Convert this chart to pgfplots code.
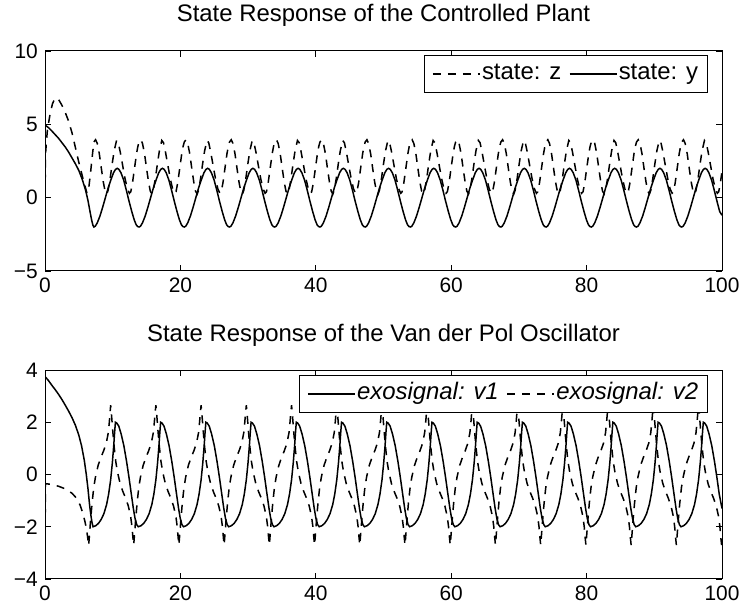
\documentclass[border=0pt]{standalone}
\usepackage{pgfplots}
\pgfplotsset{compat=1.18}
\usepackage{fontspec}
\setmainfont{Liberation Sans}
\pgfplotsset{
  mystyle/.style={
    scale only axis, width=677bp, xmin=0, xmax=100,
    xtick={0,20,40,60,80,100},
    xticklabels={0,20,40,60,80,100},
    tick align=inside, xtick pos=both, ytick pos=both,
    xticklabel pos=lower, yticklabel pos=left,
    major tick length=6bp,
    axis line style={line width=1bp, black},
    tick style={line width=0.8bp, black},
    ticklabel style={font=\fontsize{21}{21}\selectfont, inner sep=0pt},
    xticklabel style={yshift=-7bp},
    yticklabel style={xshift=-7bp},
    title style={font=\fontsize{24}{24}\selectfont, at={(axis description cs:0.5,1)}, anchor=base, yshift=24bp},
    legend style={font=\fontsize{24}{24}\selectfont, draw=black, line width=0.8bp, fill=white,
      legend columns=-1, anchor=north east, inner xsep=8bp, inner ysep=5bp,
      cells={anchor=west}, nodes={inner sep=1.5bp, text height=18bp, text depth=6bp},
      /tikz/every even column/.append style={column sep=6bp}},
    legend image code/.code={\draw[##1] (0bp,0bp) -- (47bp,0bp);},
  },
  sol/.style={black, line width=1.5bp},
  das/.style={black, line width=1.5bp, dash pattern=on 8bp off 7bp},
}
\begin{document}
\begin{tikzpicture}
\path[use as bounding box] (0bp,0bp) rectangle (746bp,612bp);
% ---------------- top axis ----------------
\begin{axis}[mystyle, at={(45bp,341bp)}, anchor=south west, height=220bp,
  ymin=-5, ymax=10, ytick={-5,0,5,10}, yticklabels={−5,0,5,10},
  title={State Response of the Controlled Plant},
  legend style={at={(axis description cs:0.9793,0.982)}}]
\addplot[das] coordinates {
(0,0)(0.08,3.0)(0.35,4.6)(0.75,5.7)(1.1,6.4)(1.5,6.8)(2.0,6.7)(2.5,6.3)(3.0,5.8)(3.5,5.2)(4.0,4.4)(4.5,3.4)(5.0,2.4)(5.5,1.5)(5.9,0.8)(6.2,0.3)(6.45,0.6)(6.75,1.8)(7.0,2.9)
(7.22,3.8)(7.47,3.95)(7.72,3.7)(8.02,3.0)(8.32,2.0)(8.62,1.05)(8.87,0.45)(9.12,0.25)(9.32,0.5)(9.62,1.3)(9.92,2.3)(10.22,3.2)(10.57,3.9)(10.82,3.75)(11.12,3.1)(11.47,2.2)(11.82,1.3)(12.17,0.6)(12.47,0.3)(12.67,0.4)(12.92,1.0)(13.22,2.0)(13.52,3.0)(13.72,3.5)
(13.90,3.8)(14.15,3.95)(14.40,3.7)(14.70,3.0)(15.00,2.0)(15.30,1.05)(15.55,0.45)(15.80,0.25)(16.00,0.5)(16.30,1.3)(16.60,2.3)(16.90,3.2)(17.25,3.9)(17.50,3.75)(17.80,3.1)(18.15,2.2)(18.50,1.3)(18.85,0.6)(19.15,0.3)(19.35,0.4)(19.60,1.0)(19.90,2.0)(20.20,3.0)(20.40,3.5)
(20.58,3.8)(20.83,3.95)(21.08,3.7)(21.38,3.0)(21.68,2.0)(21.98,1.05)(22.23,0.45)(22.48,0.25)(22.68,0.5)(22.98,1.3)(23.28,2.3)(23.58,3.2)(23.93,3.9)(24.18,3.75)(24.48,3.1)(24.83,2.2)(25.18,1.3)(25.53,0.6)(25.83,0.3)(26.03,0.4)(26.28,1.0)(26.58,2.0)(26.88,3.0)(27.08,3.5)
(27.26,3.8)(27.51,3.95)(27.76,3.7)(28.06,3.0)(28.36,2.0)(28.66,1.05)(28.91,0.45)(29.16,0.25)(29.36,0.5)(29.66,1.3)(29.96,2.3)(30.26,3.2)(30.61,3.9)(30.86,3.75)(31.16,3.1)(31.51,2.2)(31.86,1.3)(32.21,0.6)(32.51,0.3)(32.71,0.4)(32.96,1.0)(33.26,2.0)(33.56,3.0)(33.76,3.5)
(33.94,3.8)(34.19,3.95)(34.44,3.7)(34.74,3.0)(35.04,2.0)(35.34,1.05)(35.59,0.45)(35.84,0.25)(36.04,0.5)(36.34,1.3)(36.64,2.3)(36.94,3.2)(37.29,3.9)(37.54,3.75)(37.84,3.1)(38.19,2.2)(38.54,1.3)(38.89,0.6)(39.19,0.3)(39.39,0.4)(39.64,1.0)(39.94,2.0)(40.24,3.0)(40.44,3.5)
(40.62,3.8)(40.87,3.95)(41.12,3.7)(41.42,3.0)(41.72,2.0)(42.02,1.05)(42.27,0.45)(42.52,0.25)(42.72,0.5)(43.02,1.3)(43.32,2.3)(43.62,3.2)(43.97,3.9)(44.22,3.75)(44.52,3.1)(44.87,2.2)(45.22,1.3)(45.57,0.6)(45.87,0.3)(46.07,0.4)(46.32,1.0)(46.62,2.0)(46.92,3.0)(47.12,3.5)
(47.30,3.8)(47.55,3.95)(47.80,3.7)(48.10,3.0)(48.40,2.0)(48.70,1.05)(48.95,0.45)(49.20,0.25)(49.40,0.5)(49.70,1.3)(50.00,2.3)(50.30,3.2)(50.65,3.9)(50.90,3.75)(51.20,3.1)(51.55,2.2)(51.90,1.3)(52.25,0.6)(52.55,0.3)(52.75,0.4)(53.00,1.0)(53.30,2.0)(53.60,3.0)(53.80,3.5)
(53.98,3.8)(54.23,3.95)(54.48,3.7)(54.78,3.0)(55.08,2.0)(55.38,1.05)(55.63,0.45)(55.88,0.25)(56.08,0.5)(56.38,1.3)(56.68,2.3)(56.98,3.2)(57.33,3.9)(57.58,3.75)(57.88,3.1)(58.23,2.2)(58.58,1.3)(58.93,0.6)(59.23,0.3)(59.43,0.4)(59.68,1.0)(59.98,2.0)(60.28,3.0)(60.48,3.5)
(60.66,3.8)(60.91,3.95)(61.16,3.7)(61.46,3.0)(61.76,2.0)(62.06,1.05)(62.31,0.45)(62.56,0.25)(62.76,0.5)(63.06,1.3)(63.36,2.3)(63.66,3.2)(64.01,3.9)(64.26,3.75)(64.56,3.1)(64.91,2.2)(65.26,1.3)(65.61,0.6)(65.91,0.3)(66.11,0.4)(66.36,1.0)(66.66,2.0)(66.96,3.0)(67.16,3.5)
(67.34,3.8)(67.59,3.95)(67.84,3.7)(68.14,3.0)(68.44,2.0)(68.74,1.05)(68.99,0.45)(69.24,0.25)(69.44,0.5)(69.74,1.3)(70.04,2.3)(70.34,3.2)(70.69,3.9)(70.94,3.75)(71.24,3.1)(71.59,2.2)(71.94,1.3)(72.29,0.6)(72.59,0.3)(72.79,0.4)(73.04,1.0)(73.34,2.0)(73.64,3.0)(73.84,3.5)
(74.02,3.8)(74.27,3.95)(74.52,3.7)(74.82,3.0)(75.12,2.0)(75.42,1.05)(75.67,0.45)(75.92,0.25)(76.12,0.5)(76.42,1.3)(76.72,2.3)(77.02,3.2)(77.37,3.9)(77.62,3.75)(77.92,3.1)(78.27,2.2)(78.62,1.3)(78.97,0.6)(79.27,0.3)(79.47,0.4)(79.72,1.0)(80.02,2.0)(80.32,3.0)(80.52,3.5)
(80.70,3.8)(80.95,3.95)(81.20,3.7)(81.50,3.0)(81.80,2.0)(82.10,1.05)(82.35,0.45)(82.60,0.25)(82.80,0.5)(83.10,1.3)(83.40,2.3)(83.70,3.2)(84.05,3.9)(84.30,3.75)(84.60,3.1)(84.95,2.2)(85.30,1.3)(85.65,0.6)(85.95,0.3)(86.15,0.4)(86.40,1.0)(86.70,2.0)(87.00,3.0)(87.20,3.5)
(87.38,3.8)(87.63,3.95)(87.88,3.7)(88.18,3.0)(88.48,2.0)(88.78,1.05)(89.03,0.45)(89.28,0.25)(89.48,0.5)(89.78,1.3)(90.08,2.3)(90.38,3.2)(90.73,3.9)(90.98,3.75)(91.28,3.1)(91.63,2.2)(91.98,1.3)(92.33,0.6)(92.63,0.3)(92.83,0.4)(93.08,1.0)(93.38,2.0)(93.68,3.0)(93.88,3.5)
(94.06,3.8)(94.31,3.95)(94.56,3.7)(94.86,3.0)(95.16,2.0)(95.46,1.05)(95.71,0.45)(95.96,0.25)(96.16,0.5)(96.46,1.3)(96.76,2.3)(97.06,3.2)(97.41,3.9)(97.66,3.75)(97.96,3.1)(98.31,2.2)(98.66,1.3)(99.01,0.6)(99.31,0.3)(99.51,0.4)(99.76,1.0)(100,1.8)
};
\addlegendentry{state: z}
\addplot[sol] coordinates {
(0,4.95)(0.5,4.78)(1,4.55)(1.5,4.3)(2,4.05)(2.5,3.75)(3,3.45)(3.5,3.1)(4,2.7)(4.5,2.3)(5,1.85)(5.5,1.25)(6,0.5)(6.35,-0.2)(6.65,-0.95)(6.9,-1.55)(7.08,-1.88)
(7.22,-2)(7.42,-1.95)(7.72,-1.72)(8.12,-1.25)(8.52,-0.65)(8.92,0)(9.32,0.65)(9.72,1.2)(10.12,1.7)(10.42,1.93)(10.67,2)(10.92,1.93)(11.22,1.7)(11.62,1.2)(12.02,0.5)(12.42,-0.25)(12.82,-0.95)(13.17,-1.5)(13.47,-1.85)(13.69,-1.97)
(13.90,-2)(14.10,-1.95)(14.40,-1.72)(14.80,-1.25)(15.20,-0.65)(15.60,0)(16.00,0.65)(16.40,1.2)(16.80,1.7)(17.10,1.93)(17.35,2)(17.60,1.93)(17.90,1.7)(18.30,1.2)(18.70,0.5)(19.10,-0.25)(19.50,-0.95)(19.85,-1.5)(20.15,-1.85)(20.37,-1.97)
(20.58,-2)(20.78,-1.95)(21.08,-1.72)(21.48,-1.25)(21.88,-0.65)(22.28,0)(22.68,0.65)(23.08,1.2)(23.48,1.7)(23.78,1.93)(24.03,2)(24.28,1.93)(24.58,1.7)(24.98,1.2)(25.38,0.5)(25.78,-0.25)(26.18,-0.95)(26.53,-1.5)(26.83,-1.85)(27.05,-1.97)
(27.26,-2)(27.46,-1.95)(27.76,-1.72)(28.16,-1.25)(28.56,-0.65)(28.96,0)(29.36,0.65)(29.76,1.2)(30.16,1.7)(30.46,1.93)(30.71,2)(30.96,1.93)(31.26,1.7)(31.66,1.2)(32.06,0.5)(32.46,-0.25)(32.86,-0.95)(33.21,-1.5)(33.51,-1.85)(33.73,-1.97)
(33.94,-2)(34.14,-1.95)(34.44,-1.72)(34.84,-1.25)(35.24,-0.65)(35.64,0)(36.04,0.65)(36.44,1.2)(36.84,1.7)(37.14,1.93)(37.39,2)(37.64,1.93)(37.94,1.7)(38.34,1.2)(38.74,0.5)(39.14,-0.25)(39.54,-0.95)(39.89,-1.5)(40.19,-1.85)(40.41,-1.97)
(40.62,-2)(40.82,-1.95)(41.12,-1.72)(41.52,-1.25)(41.92,-0.65)(42.32,0)(42.72,0.65)(43.12,1.2)(43.52,1.7)(43.82,1.93)(44.07,2)(44.32,1.93)(44.62,1.7)(45.02,1.2)(45.42,0.5)(45.82,-0.25)(46.22,-0.95)(46.57,-1.5)(46.87,-1.85)(47.09,-1.97)
(47.30,-2)(47.50,-1.95)(47.80,-1.72)(48.20,-1.25)(48.60,-0.65)(49.00,0)(49.40,0.65)(49.80,1.2)(50.20,1.7)(50.50,1.93)(50.75,2)(51.00,1.93)(51.30,1.7)(51.70,1.2)(52.10,0.5)(52.50,-0.25)(52.90,-0.95)(53.25,-1.5)(53.55,-1.85)(53.77,-1.97)
(53.98,-2)(54.18,-1.95)(54.48,-1.72)(54.88,-1.25)(55.28,-0.65)(55.68,0)(56.08,0.65)(56.48,1.2)(56.88,1.7)(57.18,1.93)(57.43,2)(57.68,1.93)(57.98,1.7)(58.38,1.2)(58.78,0.5)(59.18,-0.25)(59.58,-0.95)(59.93,-1.5)(60.23,-1.85)(60.45,-1.97)
(60.66,-2)(60.86,-1.95)(61.16,-1.72)(61.56,-1.25)(61.96,-0.65)(62.36,0)(62.76,0.65)(63.16,1.2)(63.56,1.7)(63.86,1.93)(64.11,2)(64.36,1.93)(64.66,1.7)(65.06,1.2)(65.46,0.5)(65.86,-0.25)(66.26,-0.95)(66.61,-1.5)(66.91,-1.85)(67.13,-1.97)
(67.34,-2)(67.54,-1.95)(67.84,-1.72)(68.24,-1.25)(68.64,-0.65)(69.04,0)(69.44,0.65)(69.84,1.2)(70.24,1.7)(70.54,1.93)(70.79,2)(71.04,1.93)(71.34,1.7)(71.74,1.2)(72.14,0.5)(72.54,-0.25)(72.94,-0.95)(73.29,-1.5)(73.59,-1.85)(73.81,-1.97)
(74.02,-2)(74.22,-1.95)(74.52,-1.72)(74.92,-1.25)(75.32,-0.65)(75.72,0)(76.12,0.65)(76.52,1.2)(76.92,1.7)(77.22,1.93)(77.47,2)(77.72,1.93)(78.02,1.7)(78.42,1.2)(78.82,0.5)(79.22,-0.25)(79.62,-0.95)(79.97,-1.5)(80.27,-1.85)(80.49,-1.97)
(80.70,-2)(80.90,-1.95)(81.20,-1.72)(81.60,-1.25)(82.00,-0.65)(82.40,0)(82.80,0.65)(83.20,1.2)(83.60,1.7)(83.90,1.93)(84.15,2)(84.40,1.93)(84.70,1.7)(85.10,1.2)(85.50,0.5)(85.90,-0.25)(86.30,-0.95)(86.65,-1.5)(86.95,-1.85)(87.17,-1.97)
(87.38,-2)(87.58,-1.95)(87.88,-1.72)(88.28,-1.25)(88.68,-0.65)(89.08,0)(89.48,0.65)(89.88,1.2)(90.28,1.7)(90.58,1.93)(90.83,2)(91.08,1.93)(91.38,1.7)(91.78,1.2)(92.18,0.5)(92.58,-0.25)(92.98,-0.95)(93.33,-1.5)(93.63,-1.85)(93.85,-1.97)
(94.06,-2)(94.26,-1.95)(94.56,-1.72)(94.96,-1.25)(95.36,-0.65)(95.76,0)(96.16,0.65)(96.56,1.2)(96.96,1.7)(97.26,1.93)(97.51,2)(97.76,1.93)(98.06,1.7)(98.46,1.2)(98.86,0.5)(99.26,-0.25)(99.66,-0.95)(100,-1.2)
};
\addlegendentry{state: y}
\end{axis}
% ---------------- bottom axis ----------------
\begin{axis}[mystyle, at={(45bp,33bp)}, anchor=south west, height=209bp,
  ymin=-4, ymax=4, ytick={-4,-2,0,2,4}, yticklabels={−4,−2,0,2,4},
  title={State Response of the Van der Pol Oscillator},
  title style={yshift=-1bp},
  legend style={at={(axis description cs:0.9793,0.976)}, font=\fontsize{24}{24}\selectfont\itshape}]
\addplot[sol] coordinates {
(0,3.75)(0.5,3.6)(1,3.42)(1.5,3.25)(2,3.07)(2.5,2.87)(3,2.65)(3.5,2.42)(4,2.17)(4.5,1.88)(5,1.5)(5.4,1.1)(5.8,0.55)(6.1,0)(6.35,-0.55)(6.6,-1.2)(6.8,-1.6)(6.95,-1.85)
(7.10,-2)(7.50,-1.96)(7.90,-1.87)(8.30,-1.72)(8.70,-1.5)(9.10,-1.15)(9.40,-0.75)(9.70,-0.2)(9.95,0.45)(10.15,1.1)(10.28,1.6)(10.40,2)(10.60,1.97)(10.90,1.85)(11.25,1.55)(11.65,1.1)(12.05,0.5)(12.40,-0.1)(12.75,-0.75)(13.05,-1.3)(13.30,-1.68)(13.55,-1.92)
(13.78,-2)(14.18,-1.96)(14.58,-1.87)(14.98,-1.72)(15.38,-1.5)(15.78,-1.15)(16.08,-0.75)(16.38,-0.2)(16.63,0.45)(16.83,1.1)(16.96,1.6)(17.08,2)(17.28,1.97)(17.58,1.85)(17.93,1.55)(18.33,1.1)(18.73,0.5)(19.08,-0.1)(19.43,-0.75)(19.73,-1.3)(19.98,-1.68)(20.23,-1.92)
(20.46,-2)(20.86,-1.96)(21.26,-1.87)(21.66,-1.72)(22.06,-1.5)(22.46,-1.15)(22.76,-0.75)(23.06,-0.2)(23.31,0.45)(23.51,1.1)(23.64,1.6)(23.76,2)(23.96,1.97)(24.26,1.85)(24.61,1.55)(25.01,1.1)(25.41,0.5)(25.76,-0.1)(26.11,-0.75)(26.41,-1.3)(26.66,-1.68)(26.91,-1.92)
(27.14,-2)(27.54,-1.96)(27.94,-1.87)(28.34,-1.72)(28.74,-1.5)(29.14,-1.15)(29.44,-0.75)(29.74,-0.2)(29.99,0.45)(30.19,1.1)(30.32,1.6)(30.44,2)(30.64,1.97)(30.94,1.85)(31.29,1.55)(31.69,1.1)(32.09,0.5)(32.44,-0.1)(32.79,-0.75)(33.09,-1.3)(33.34,-1.68)(33.59,-1.92)
(33.82,-2)(34.22,-1.96)(34.62,-1.87)(35.02,-1.72)(35.42,-1.5)(35.82,-1.15)(36.12,-0.75)(36.42,-0.2)(36.67,0.45)(36.87,1.1)(37.00,1.6)(37.12,2)(37.32,1.97)(37.62,1.85)(37.97,1.55)(38.37,1.1)(38.77,0.5)(39.12,-0.1)(39.47,-0.75)(39.77,-1.3)(40.02,-1.68)(40.27,-1.92)
(40.50,-2)(40.90,-1.96)(41.30,-1.87)(41.70,-1.72)(42.10,-1.5)(42.50,-1.15)(42.80,-0.75)(43.10,-0.2)(43.35,0.45)(43.55,1.1)(43.68,1.6)(43.80,2)(44.00,1.97)(44.30,1.85)(44.65,1.55)(45.05,1.1)(45.45,0.5)(45.80,-0.1)(46.15,-0.75)(46.45,-1.3)(46.70,-1.68)(46.95,-1.92)
(47.18,-2)(47.58,-1.96)(47.98,-1.87)(48.38,-1.72)(48.78,-1.5)(49.18,-1.15)(49.48,-0.75)(49.78,-0.2)(50.03,0.45)(50.23,1.1)(50.36,1.6)(50.48,2)(50.68,1.97)(50.98,1.85)(51.33,1.55)(51.73,1.1)(52.13,0.5)(52.48,-0.1)(52.83,-0.75)(53.13,-1.3)(53.38,-1.68)(53.63,-1.92)
(53.86,-2)(54.26,-1.96)(54.66,-1.87)(55.06,-1.72)(55.46,-1.5)(55.86,-1.15)(56.16,-0.75)(56.46,-0.2)(56.71,0.45)(56.91,1.1)(57.04,1.6)(57.16,2)(57.36,1.97)(57.66,1.85)(58.01,1.55)(58.41,1.1)(58.81,0.5)(59.16,-0.1)(59.51,-0.75)(59.81,-1.3)(60.06,-1.68)(60.31,-1.92)
(60.54,-2)(60.94,-1.96)(61.34,-1.87)(61.74,-1.72)(62.14,-1.5)(62.54,-1.15)(62.84,-0.75)(63.14,-0.2)(63.39,0.45)(63.59,1.1)(63.72,1.6)(63.84,2)(64.04,1.97)(64.34,1.85)(64.69,1.55)(65.09,1.1)(65.49,0.5)(65.84,-0.1)(66.19,-0.75)(66.49,-1.3)(66.74,-1.68)(66.99,-1.92)
(67.22,-2)(67.62,-1.96)(68.02,-1.87)(68.42,-1.72)(68.82,-1.5)(69.22,-1.15)(69.52,-0.75)(69.82,-0.2)(70.07,0.45)(70.27,1.1)(70.40,1.6)(70.52,2)(70.72,1.97)(71.02,1.85)(71.37,1.55)(71.77,1.1)(72.17,0.5)(72.52,-0.1)(72.87,-0.75)(73.17,-1.3)(73.42,-1.68)(73.67,-1.92)
(73.90,-2)(74.30,-1.96)(74.70,-1.87)(75.10,-1.72)(75.50,-1.5)(75.90,-1.15)(76.20,-0.75)(76.50,-0.2)(76.75,0.45)(76.95,1.1)(77.08,1.6)(77.20,2)(77.40,1.97)(77.70,1.85)(78.05,1.55)(78.45,1.1)(78.85,0.5)(79.20,-0.1)(79.55,-0.75)(79.85,-1.3)(80.10,-1.68)(80.35,-1.92)
(80.58,-2)(80.98,-1.96)(81.38,-1.87)(81.78,-1.72)(82.18,-1.5)(82.58,-1.15)(82.88,-0.75)(83.18,-0.2)(83.43,0.45)(83.63,1.1)(83.76,1.6)(83.88,2)(84.08,1.97)(84.38,1.85)(84.73,1.55)(85.13,1.1)(85.53,0.5)(85.88,-0.1)(86.23,-0.75)(86.53,-1.3)(86.78,-1.68)(87.03,-1.92)
(87.26,-2)(87.66,-1.96)(88.06,-1.87)(88.46,-1.72)(88.86,-1.5)(89.26,-1.15)(89.56,-0.75)(89.86,-0.2)(90.11,0.45)(90.31,1.1)(90.44,1.6)(90.56,2)(90.76,1.97)(91.06,1.85)(91.41,1.55)(91.81,1.1)(92.21,0.5)(92.56,-0.1)(92.91,-0.75)(93.21,-1.3)(93.46,-1.68)(93.71,-1.92)
(93.94,-2)(94.34,-1.96)(94.74,-1.87)(95.14,-1.72)(95.54,-1.5)(95.94,-1.15)(96.24,-0.75)(96.54,-0.2)(96.79,0.45)(96.99,1.1)(97.12,1.6)(97.24,2)(97.44,1.97)(97.74,1.85)(98.09,1.55)(98.49,1.1)(98.89,0.5)(99.24,-0.1)(99.59,-0.75)(100,-1.3)
};
\addlegendentry{exosignal: v1}
\addplot[das] coordinates {
(0,-4.5)(0.05,-0.35)(1,-0.38)(2,-0.45)(3,-0.55)(4,-0.72)(4.7,-0.92)(5.2,-1.18)(5.6,-1.5)(5.9,-1.8)(6.1,-2.05)(6.3,-2.4)(6.45,-2.72)(6.6,-2.2)(6.75,-1.7)(6.95,-1.1)(7.2,-0.5)(7.45,-0.1)(7.85,0.35)(8.25,0.65)(8.65,0.9)(9.05,1.2)(9.35,1.6)(9.5,2.0)(9.62,2.4)
(9.70,2.65)(9.85,2.2)(10.00,1.7)(10.20,1.1)(10.45,0.5)(10.70,0.1)(11.10,-0.35)(11.50,-0.65)(11.90,-0.9)(12.30,-1.2)(12.65,-1.6)(12.85,-2)(13.00,-2.45)(13.10,-2.7)(13.25,-2.2)(13.40,-1.7)(13.60,-1.1)(13.85,-0.5)(14.10,-0.1)(14.50,0.35)(14.90,0.65)(15.30,0.9)(15.70,1.2)(16.00,1.6)(16.15,2)(16.28,2.4)
(16.38,2.65)(16.53,2.2)(16.68,1.7)(16.88,1.1)(17.13,0.5)(17.38,0.1)(17.78,-0.35)(18.18,-0.65)(18.58,-0.9)(18.98,-1.2)(19.33,-1.6)(19.53,-2)(19.68,-2.45)(19.78,-2.7)(19.93,-2.2)(20.08,-1.7)(20.28,-1.1)(20.53,-0.5)(20.78,-0.1)(21.18,0.35)(21.58,0.65)(21.98,0.9)(22.38,1.2)(22.68,1.6)(22.83,2)(22.96,2.4)
(23.06,2.65)(23.21,2.2)(23.36,1.7)(23.56,1.1)(23.81,0.5)(24.06,0.1)(24.46,-0.35)(24.86,-0.65)(25.26,-0.9)(25.66,-1.2)(26.01,-1.6)(26.21,-2)(26.36,-2.45)(26.46,-2.7)(26.61,-2.2)(26.76,-1.7)(26.96,-1.1)(27.21,-0.5)(27.46,-0.1)(27.86,0.35)(28.26,0.65)(28.66,0.9)(29.06,1.2)(29.36,1.6)(29.51,2)(29.64,2.4)
(29.74,2.65)(29.89,2.2)(30.04,1.7)(30.24,1.1)(30.49,0.5)(30.74,0.1)(31.14,-0.35)(31.54,-0.65)(31.94,-0.9)(32.34,-1.2)(32.69,-1.6)(32.89,-2)(33.04,-2.45)(33.14,-2.7)(33.29,-2.2)(33.44,-1.7)(33.64,-1.1)(33.89,-0.5)(34.14,-0.1)(34.54,0.35)(34.94,0.65)(35.34,0.9)(35.74,1.2)(36.04,1.6)(36.19,2)(36.32,2.4)
(36.42,2.65)(36.57,2.2)(36.72,1.7)(36.92,1.1)(37.17,0.5)(37.42,0.1)(37.82,-0.35)(38.22,-0.65)(38.62,-0.9)(39.02,-1.2)(39.37,-1.6)(39.57,-2)(39.72,-2.45)(39.82,-2.7)(39.97,-2.2)(40.12,-1.7)(40.32,-1.1)(40.57,-0.5)(40.82,-0.1)(41.22,0.35)(41.62,0.65)(42.02,0.9)(42.42,1.2)(42.72,1.6)(42.87,2)(43.00,2.4)
(43.10,2.65)(43.25,2.2)(43.40,1.7)(43.60,1.1)(43.85,0.5)(44.10,0.1)(44.50,-0.35)(44.90,-0.65)(45.30,-0.9)(45.70,-1.2)(46.05,-1.6)(46.25,-2)(46.40,-2.45)(46.50,-2.7)(46.65,-2.2)(46.80,-1.7)(47.00,-1.1)(47.25,-0.5)(47.50,-0.1)(47.90,0.35)(48.30,0.65)(48.70,0.9)(49.10,1.2)(49.40,1.6)(49.55,2)(49.68,2.4)
(49.78,2.65)(49.93,2.2)(50.08,1.7)(50.28,1.1)(50.53,0.5)(50.78,0.1)(51.18,-0.35)(51.58,-0.65)(51.98,-0.9)(52.38,-1.2)(52.73,-1.6)(52.93,-2)(53.08,-2.45)(53.18,-2.7)(53.33,-2.2)(53.48,-1.7)(53.68,-1.1)(53.93,-0.5)(54.18,-0.1)(54.58,0.35)(54.98,0.65)(55.38,0.9)(55.78,1.2)(56.08,1.6)(56.23,2)(56.36,2.4)
(56.46,2.65)(56.61,2.2)(56.76,1.7)(56.96,1.1)(57.21,0.5)(57.46,0.1)(57.86,-0.35)(58.26,-0.65)(58.66,-0.9)(59.06,-1.2)(59.41,-1.6)(59.61,-2)(59.76,-2.45)(59.86,-2.7)(60.01,-2.2)(60.16,-1.7)(60.36,-1.1)(60.61,-0.5)(60.86,-0.1)(61.26,0.35)(61.66,0.65)(62.06,0.9)(62.46,1.2)(62.76,1.6)(62.91,2)(63.04,2.4)
(63.14,2.65)(63.29,2.2)(63.44,1.7)(63.64,1.1)(63.89,0.5)(64.14,0.1)(64.54,-0.35)(64.94,-0.65)(65.34,-0.9)(65.74,-1.2)(66.09,-1.6)(66.29,-2)(66.44,-2.45)(66.54,-2.7)(66.69,-2.2)(66.84,-1.7)(67.04,-1.1)(67.29,-0.5)(67.54,-0.1)(67.94,0.35)(68.34,0.65)(68.74,0.9)(69.14,1.2)(69.44,1.6)(69.59,2)(69.72,2.4)
(69.82,2.65)(69.97,2.2)(70.12,1.7)(70.32,1.1)(70.57,0.5)(70.82,0.1)(71.22,-0.35)(71.62,-0.65)(72.02,-0.9)(72.42,-1.2)(72.77,-1.6)(72.97,-2)(73.12,-2.45)(73.22,-2.7)(73.37,-2.2)(73.52,-1.7)(73.72,-1.1)(73.97,-0.5)(74.22,-0.1)(74.62,0.35)(75.02,0.65)(75.42,0.9)(75.82,1.2)(76.12,1.6)(76.27,2)(76.40,2.4)
(76.50,2.65)(76.65,2.2)(76.80,1.7)(77.00,1.1)(77.25,0.5)(77.50,0.1)(77.90,-0.35)(78.30,-0.65)(78.70,-0.9)(79.10,-1.2)(79.45,-1.6)(79.65,-2)(79.80,-2.45)(79.90,-2.7)(80.05,-2.2)(80.20,-1.7)(80.40,-1.1)(80.65,-0.5)(80.90,-0.1)(81.30,0.35)(81.70,0.65)(82.10,0.9)(82.50,1.2)(82.80,1.6)(82.95,2)(83.08,2.4)
(83.18,2.65)(83.33,2.2)(83.48,1.7)(83.68,1.1)(83.93,0.5)(84.18,0.1)(84.58,-0.35)(84.98,-0.65)(85.38,-0.9)(85.78,-1.2)(86.13,-1.6)(86.33,-2)(86.48,-2.45)(86.58,-2.7)(86.73,-2.2)(86.88,-1.7)(87.08,-1.1)(87.33,-0.5)(87.58,-0.1)(87.98,0.35)(88.38,0.65)(88.78,0.9)(89.18,1.2)(89.48,1.6)(89.63,2)(89.76,2.4)
(89.86,2.65)(90.01,2.2)(90.16,1.7)(90.36,1.1)(90.61,0.5)(90.86,0.1)(91.26,-0.35)(91.66,-0.65)(92.06,-0.9)(92.46,-1.2)(92.81,-1.6)(93.01,-2)(93.16,-2.45)(93.26,-2.7)(93.41,-2.2)(93.56,-1.7)(93.76,-1.1)(94.01,-0.5)(94.26,-0.1)(94.66,0.35)(95.06,0.65)(95.46,0.9)(95.86,1.2)(96.16,1.6)(96.31,2)(96.44,2.4)
(96.54,2.65)(96.69,2.2)(96.84,1.7)(97.04,1.1)(97.29,0.5)(97.54,0.1)(97.94,-0.35)(98.34,-0.65)(98.74,-0.9)(99.14,-1.2)(99.49,-1.6)(99.69,-2)(99.84,-2.45)(99.94,-2.7)(100,-2.5)
};
\addlegendentry{exosignal: v2}
\end{axis}
\end{tikzpicture}
\end{document}
